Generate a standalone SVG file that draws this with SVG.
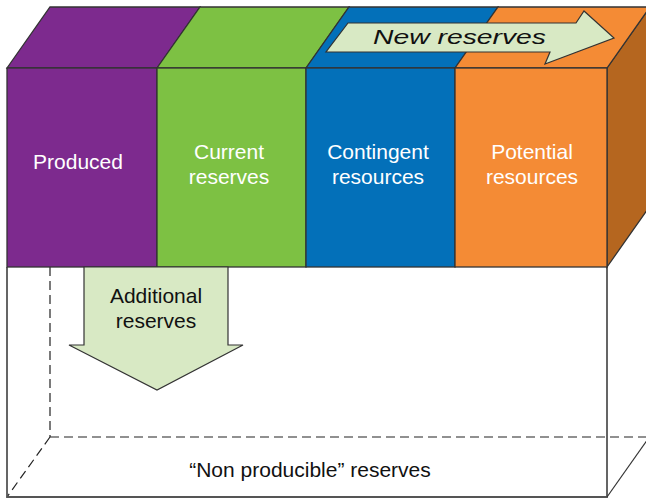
<svg xmlns="http://www.w3.org/2000/svg" width="646" height="500" viewBox="0 0 646 500">
  <style>
    .edge { stroke: #333333; stroke-width: 1.3; stroke-linejoin: miter; }
    .frame { fill: none; stroke: #555555; stroke-width: 1.8; }
    .hidden { fill: none; stroke: #222222; stroke-width: 1.2; stroke-dasharray: 9 5; }
    .lbl { font-family: "Liberation Sans", Arial, Helvetica, sans-serif; font-size: 21px; text-anchor: middle; }
    .w { fill: #ffffff; }
    .k { fill: #111111; }
    .arrow { fill: #d8e9c4; stroke: #333333; stroke-width: 1.2; stroke-linejoin: miter; }
  </style>

  <rect width="646" height="500" fill="#ffffff"/>

  <!-- lower white block: "non producible" part -->
  <g id="non-producible">
    <line class="hidden" x1="50" y1="267" x2="50" y2="437"/>
    <line class="hidden" x1="50" y1="437" x2="650" y2="437"/>
    <line class="hidden" x1="50" y1="437" x2="7" y2="497"/>
    <polyline class="frame" points="7,267 7,497 607,497 607,267"/>
    <line x1="607" y1="497" x2="650" y2="436" stroke="#333333" stroke-width="1.2"/>
    <text class="lbl k" x="310" y="477">“Non producible” reserves</text>
  </g>

  <!-- side face of the coloured band -->
  <polygon class="edge" fill="#b5661f" points="607,68 650,7 650,206 607,267"/>

  <g id="produced">
    <polygon class="edge" fill="#7d2a8e" points="7,68 50,7 200,7 157,68"/>
    <rect class="edge" fill="#7d2a8e" x="7" y="68" width="150" height="199"/>
    <text class="lbl w" x="78" y="169">Produced</text>
  </g>

  <g id="current-reserves">
    <polygon class="edge" fill="#7dc143" points="157,68 200,7 349,7 306,68"/>
    <rect class="edge" fill="#7dc143" x="157" y="68" width="149" height="199"/>
    <text class="lbl w" x="229" y="159">Current</text>
    <text class="lbl w" x="229" y="184">reserves</text>
  </g>

  <g id="contingent-resources">
    <polygon class="edge" fill="#0370b9" points="306,68 349,7 498,7 455,68"/>
    <rect class="edge" fill="#0370b9" x="306" y="68" width="149" height="199"/>
    <text class="lbl w" x="378" y="159">Contingent</text>
    <text class="lbl w" x="378" y="184">resources</text>
  </g>

  <g id="potential-resources">
    <polygon class="edge" fill="#f48b35" points="455,68 498,7 650,7 607,68"/>
    <rect class="edge" fill="#f48b35" x="455" y="68" width="152" height="199"/>
    <text class="lbl w" x="532" y="159">Potential</text>
    <text class="lbl w" x="532" y="184">resources</text>
  </g>

  <!-- arrows -->
  <g id="connectors">
    <g id="new-reserves">
      <polygon class="arrow" points="348,23 576,23 584,11 614,38 545,64 550,52 326,52"/>
      <text x="373" y="44" font-family="'Liberation Sans', Arial, sans-serif" font-size="21" font-style="italic" fill="#111111" textLength="173" lengthAdjust="spacingAndGlyphs">New reserves</text>
    </g>
    <g id="additional-reserves">
      <polygon class="arrow" points="84,267 228,267 228,345 243,345 157,390 69,345 84,345"/>
      <text class="lbl k" x="156" y="303">Additional</text>
      <text class="lbl k" x="156" y="328">reserves</text>
    </g>
  </g>
</svg>
